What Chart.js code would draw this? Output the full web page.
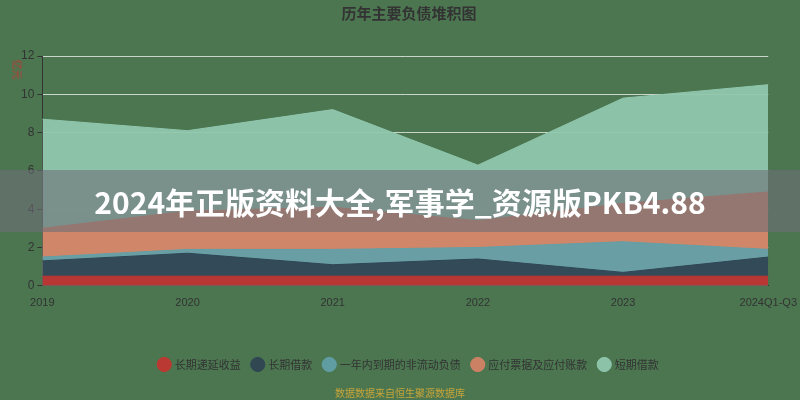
<!DOCTYPE html><html><head><meta charset="utf-8">
<script src="https://cdn.jsdelivr.net/npm/chart.js@4"></script>
<style>html,body{margin:0;background:#4b7650;}#w{position:relative;width:800px;height:400px;}
#band{position:absolute;left:0;top:170px;width:800px;height:62px;background:rgba(110,110,120,0.6);color:#fff;font:bold 30px "Noto Sans CJK SC";text-align:center;line-height:62px;}
#foot{position:absolute;left:0;width:800px;top:385px;text-align:center;font:10px "Noto Sans CJK SC";color:#c9a53a;}
#yt{position:absolute;left:8px;top:62px;transform:rotate(90deg);font:10px "Noto Sans CJK SC";color:#c23531;}
</style></head><body><div id="w"><canvas id="c" width="800" height="400"></canvas>
<div id="band">2024年正版资料大全,军事学_资源版PKB4.88</div><div id="yt">亿元</div><div id="foot">数据数据来自恒生聚源数据库</div></div>
<script>
const categories=["2019","2020","2021","2022","2023","2024Q1-Q3"];
const names=["长期递延收益","长期借款","一年内到期的非流动负债","应付票据及应付账款","短期借款"];
const s1=[0.5,0.5,0.5,0.5,0.5,0.5];
const s2=[0.8,1.2,0.6,0.9,0.2,1.0];
const s3=[0.2,0.2,0.8,0.6,1.6,0.4];
const s4=[1.5,2.0,2.2,1.4,2.0,3.0];
const s5=[5.7,4.2,5.1,2.9,5.5,5.6];
const yTicks=[0,2,4,6,8,10,12];
const colors=["#c23531","#2f4554","#61a0a8","#d48265","#91c7ae"];
const series=[s1,s2,s3,s4,s5];
new Chart(document.getElementById('c'),{type:'line',
data:{labels:categories,datasets:series.map((d,i)=>({label:names[i],data:d,fill:true,backgroundColor:colors[i]+'ee',borderColor:colors[i],borderWidth:1,pointRadius:0,tension:0}))},
options:{responsive:false,animation:false,layout:{padding:{left:18,right:0,top:0,bottom:20}},
plugins:{title:{display:true,text:'历年主要负债堆积图',color:'#333',font:{size:15,weight:'bold',family:'Noto Sans CJK SC'},padding:{top:4,bottom:34}},
legend:{position:'bottom',labels:{usePointStyle:true,pointStyle:'circle',boxWidth:10,boxHeight:10,color:'#333',padding:12,font:{size:11,family:'Noto Sans CJK SC'}}},tooltip:{enabled:false}},
scales:{x:{offset:false,afterFit:s=>{s.height+=34;},grid:{display:false},border:{color:'#333'},ticks:{color:'#333',font:{size:11},maxRotation:0,align:'center'}},
y:{stacked:true,min:0,max:12,afterBuildTicks:a=>{a.ticks=yTicks.map(v=>({value:v}));},grid:{color:'rgba(255,255,255,0.7)',drawTicks:true,tickColor:'#333',tickLength:5},border:{color:'#333'},ticks:{color:'#333',font:{size:12}}}}}});
</script></body></html>
